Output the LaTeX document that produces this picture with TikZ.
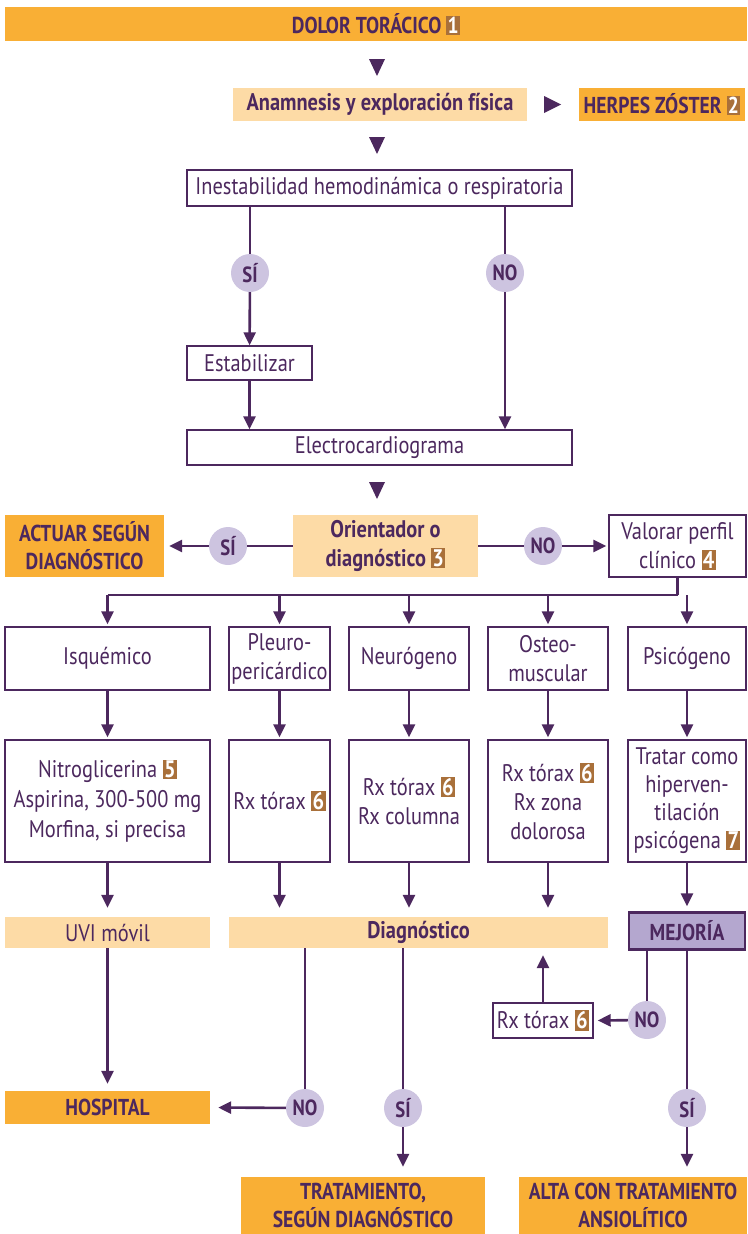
\documentclass[tikz,border=0pt]{standalone}
\usepackage{fontspec}
\setmainfont{PT Sans}[FakeStretch=0.85]
\usetikzlibrary{arrows.meta,calc}
\definecolor{orangebar}{RGB}{249,175,53}
\definecolor{peach}{RGB}{253,219,166}
\definecolor{ink}{RGB}{76,40,94}
\definecolor{bubble}{RGB}{205,196,224}
\definecolor{lilac}{RGB}{180,167,207}
\definecolor{badge}{RGB}{169,112,58}
\newcommand\numbox[1]{{\setlength{\fboxsep}{1.3pt}\colorbox{badge}{\textcolor{white}{\bfseries #1}}}}
\begin{document}
\begin{tikzpicture}[x=1pt,y=-1pt,
  every node/.style={text=ink,font=\fontsize{24}{29}\selectfont,inner sep=0pt,align=center},
  hot/.style={fill=orangebar,font=\fontsize{23}{28}\selectfont\bfseries},
  soft/.style={fill=peach},
  strong/.style={font=\fontsize{24}{29}\selectfont\bfseries},
  plain/.style={draw=ink,line width=1.4pt,fill=white},
  better/.style={draw=ink,line width=2.4pt,fill=lilac,font=\fontsize{23}{28}\selectfont\bfseries},
  answer/.style={circle,fill=bubble,minimum size=38pt,font=\fontsize{22}{26}\selectfont\bfseries},
  bx/.style 2 args={minimum width=#1pt,minimum height=#2pt},
  link/.style={draw=ink,line width=2.6pt},
  arr/.style={link,-{Triangle[length=13pt,width=12pt]}},
  tip/.style={fill=ink}
]
\useasboundingbox (0,0) rectangle (747,1234);

% top section
\node[hot,bx={742}{34}] (title) at (376,24) {DOLOR TORÁCICO \numbox{1}};
\node[soft,strong,bx={294}{33}] (anam) at (380,104.5) {Anamnesis y exploración física};
\node[hot,bx={166}{33}] (herpes) at (662,104.5) {HERPES ZÓSTER \numbox{2}};
\node[plain,bx={385}{36}] (inest) at (379.5,188) {Inestabilidad hemodinámica o respiratoria};
\node[answer] (si1) at (250,273) {SÍ};
\node[answer] (no1) at (505,273) {NO};
\node[plain,bx={125}{34}] (estab) at (249.5,363) {Estabilizar};
\node[plain,bx={385}{35}] (ecg) at (379.5,447.5) {Electrocardiograma};

% free-standing pointers between the upper boxes
\fill[tip] (369,59) -- (385,59) -- (377,76) -- cycle;
\fill[tip] (369,137) -- (385,137) -- (377,154) -- cycle;
\fill[tip] (369,482) -- (385,482) -- (377,499) -- cycle;
\fill[tip] (544,96) -- (544,113) -- (561,104.5) -- cycle;

% orientation row
\node[soft,strong,bx={185}{62}] (orient) at (385.5,546) {Orientador o\\diagnóstico \numbox{3}};
\node[hot,bx={159}{62}] (actuar) at (84.5,546) {ACTUAR SEGÚN\\DIAGNÓSTICO};
\node[answer] (si2) at (228,546) {SÍ};
\node[answer] (no2) at (543,546) {NO};
\node[plain,bx={137}{62}] (valorar) at (677.5,546) {Valorar perfil\\clínico \numbox{4}};

% clinical profiles
\node[plain,bx={205}{63}] (isq) at (107.5,658.5) {Isquémico};
\node[plain,bx={101}{63}] (pleuro) at (279.5,658.5) {Pleuro-\\pericárdico};
\node[plain,bx={120}{63}] (neuro) at (409,658.5) {Neurógeno};
\node[plain,bx={120}{63}] (osteo) at (548,658.5) {Osteo-\\muscular};
\node[plain,bx={118}{63}] (psico) at (687,658.5) {Psicógeno};

\node[plain,bx={205}{122},font=\fontsize{24}{30}\selectfont] (isqT) at (107.5,801) {Nitroglicerina \numbox{5}\\Aspirina, 300-500 mg\\Morfina, si precisa};
\node[plain,bx={101}{122}] (pleuroT) at (279.5,801) {Rx tórax \numbox{6}};
\node[plain,bx={120}{122}] (neuroT) at (409,801) {Rx tórax \numbox{6}\\Rx columna};
\node[plain,bx={120}{122}] (osteoT) at (548,801) {Rx tórax \numbox{6}\\Rx zona\\dolorosa};
\node[plain,bx={118}{122},font=\fontsize{24}{28}\selectfont] (psicoT) at (687,801) {Tratar como\\hiperven-\\tilación\\psicógena \numbox{7}};

% outcome row
\node[soft,bx={205}{31}] (uvi) at (107.5,932.5) {UVI móvil};
\node[soft,strong,bx={379}{31}] (diag) at (418.5,932.5) {Diagnóstico};
\node[better,bx={116}{37}] (mejoria) at (687,931) {MEJORÍA};
\node[plain,bx={100}{35}] (rx) at (543,1020.5) {Rx tórax \numbox{6}};
\node[answer] (no3) at (647,1020) {NO};

\node[hot,bx={205}{33}] (hospital) at (107.5,1107.5) {HOSPITAL};
\node[answer] (no4) at (305,1108) {NO};
\node[answer] (si4) at (403,1108) {SÍ};
\node[answer] (si5) at (687,1108) {SÍ};
\node[hot,bx={244}{57}] (trat) at (363,1205.5) {TRATAMIENTO,\\SEGÚN DIAGNÓSTICO};
\node[hot,bx={228}{57}] (alta) at (633,1205.5) {ALTA CON TRATAMIENTO\\ANSIOLÍTICO};

% connectors: stability branch
\draw[link] (si1 |- inest.south) -- (si1);
\draw[arr] (si1) -- (estab);
\draw[link] (no1 |- inest.south) -- (no1);
\draw[arr] (no1) -- (no1 |- ecg.north);
\draw[arr] (estab) -- (estab |- ecg.north);

% orientation branch
\draw[link] (orient.west) -- (si2);
\draw[arr,shorten >=5pt] (si2) -- (actuar.east);
\draw[link] (orient.east) -- (no2);
\draw[arr,shorten >=2pt] (no2) -- (valorar.west);

% distribution bus
\coordinate (bus) at (0,595);
\draw[link] (valorar.south) -- (valorar.south |- bus);
\draw[link] (isq.north |- bus) -- (valorar.south |- bus);
\foreach \b in {isq,pleuro,neuro,osteo,psico}
  \draw[arr,shorten >=2pt] (\b.north |- bus) -- (\b.north);
\foreach \b in {isq,pleuro,neuro,osteo,psico}
  \draw[arr,shorten >=2pt] (\b.south) -- (\b T.north);
\draw[arr,shorten >=9pt] (isqT.south) -- (uvi.north);
\foreach \b in {pleuroT,neuroT,osteoT}
  \draw[arr,shorten >=9pt] (\b.south) -- (\b.south |- diag.north);
\draw[arr,shorten >=5pt] (psicoT.south) -- (mejoria.north);

% final decisions
\draw[arr,shorten >=7pt] (uvi.south) -- (hospital.north);
\draw[link] (no4 |- diag.south) -- (no4);
\draw[arr,shorten >=8pt] (no4) -- (hospital.east);
\draw[link] (si4 |- diag.south) -- (si4);
\draw[arr,shorten >=10pt] (si4) -- (si4 |- trat.north);
\draw[link] (no3 |- mejoria.south) -- (no3);
\draw[arr,shorten >=4pt] (no3) -- (rx.east);
\draw[arr,shorten >=7pt] (rx.north) -- (rx.north |- diag.south);
\draw[link] (si5 |- mejoria.south) -- (si5);
\draw[arr,shorten >=10pt] (si5) -- (si5 |- alta.north);
\end{tikzpicture}
\end{document}
